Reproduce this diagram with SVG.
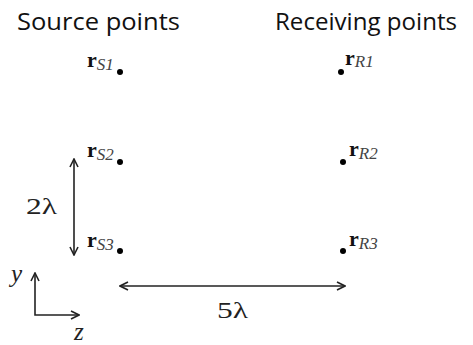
<svg xmlns="http://www.w3.org/2000/svg" width="473" height="345" viewBox="0 0 473 345">
<defs>
<marker id="ah" viewBox="0 0 10 10" refX="9" refY="5" markerWidth="10" markerHeight="10" markerUnits="userSpaceOnUse" orient="auto-start-reverse">
<path d="M1,1 L9,5 L1,9" fill="none" stroke="#222" stroke-width="1.6"/>
</marker>
</defs>
<style>
.head{font-family:"Open Sans","Noto Sans",sans-serif;font-size:24px;fill:#111}
.r{font-family:"Liberation Serif",serif;font-weight:bold;font-size:22px;fill:#111}
.sub{font-family:"Liberation Serif",serif;font-style:italic;font-size:17px;fill:#444}
.m{font-family:"Liberation Serif",serif;font-size:24px;fill:#222}
.mi{font-family:"Liberation Serif",serif;font-style:italic;font-size:25px;fill:#222}
.ln{stroke:#222;stroke-width:1.6;fill:none}
.dot{fill:#000}
</style>
<g id="title-source"><text class="head" x="17" y="30" textLength="163" lengthAdjust="spacingAndGlyphs">Source points</text></g>
<g id="title-receiving"><text class="head" x="275" y="30" textLength="182" lengthAdjust="spacingAndGlyphs">Receiving points</text></g>
<g id="S1"><text x="87" y="67"><tspan class="r">r</tspan><tspan class="sub" dy="3">S1</tspan></text><circle class="dot" cx="120" cy="72" r="3"/></g>
<g id="S2"><text x="87" y="157"><tspan class="r">r</tspan><tspan class="sub" dy="3">S2</tspan></text><circle class="dot" cx="120" cy="162" r="3"/></g>
<g id="S3"><text x="87" y="247"><tspan class="r">r</tspan><tspan class="sub" dy="3">S3</tspan></text><circle class="dot" cx="120" cy="251" r="3"/></g>
<g id="R1"><circle class="dot" cx="341" cy="72" r="3"/><text x="345" y="65"><tspan class="r">r</tspan><tspan class="sub" dy="2">R1</tspan></text></g>
<g id="R2"><circle class="dot" cx="343" cy="162" r="3"/><text x="349" y="156"><tspan class="r">r</tspan><tspan class="sub" dy="3">R2</tspan></text></g>
<g id="R3"><circle class="dot" cx="343" cy="251" r="3"/><text x="349" y="246"><tspan class="r">r</tspan><tspan class="sub" dy="3">R3</tspan></text></g>
<g id="connectors">
<line class="ln" x1="74" y1="159" x2="74" y2="255" marker-start="url(#ah)" marker-end="url(#ah)"/>
<line class="ln" x1="120" y1="286" x2="345" y2="286" marker-start="url(#ah)" marker-end="url(#ah)"/>
<path class="ln" d="M35,273 L35,315 L79,315" marker-start="url(#ah)" marker-end="url(#ah)"/>
</g>
<g id="labels">
<text class="m" x="26" y="214" textLength="31" lengthAdjust="spacingAndGlyphs">2λ</text>
<text class="m" x="217" y="318" textLength="31" lengthAdjust="spacingAndGlyphs">5λ</text>
<text class="mi" x="11" y="282">y</text>
<text class="mi" x="74" y="340">z</text>
</g>
</svg>
